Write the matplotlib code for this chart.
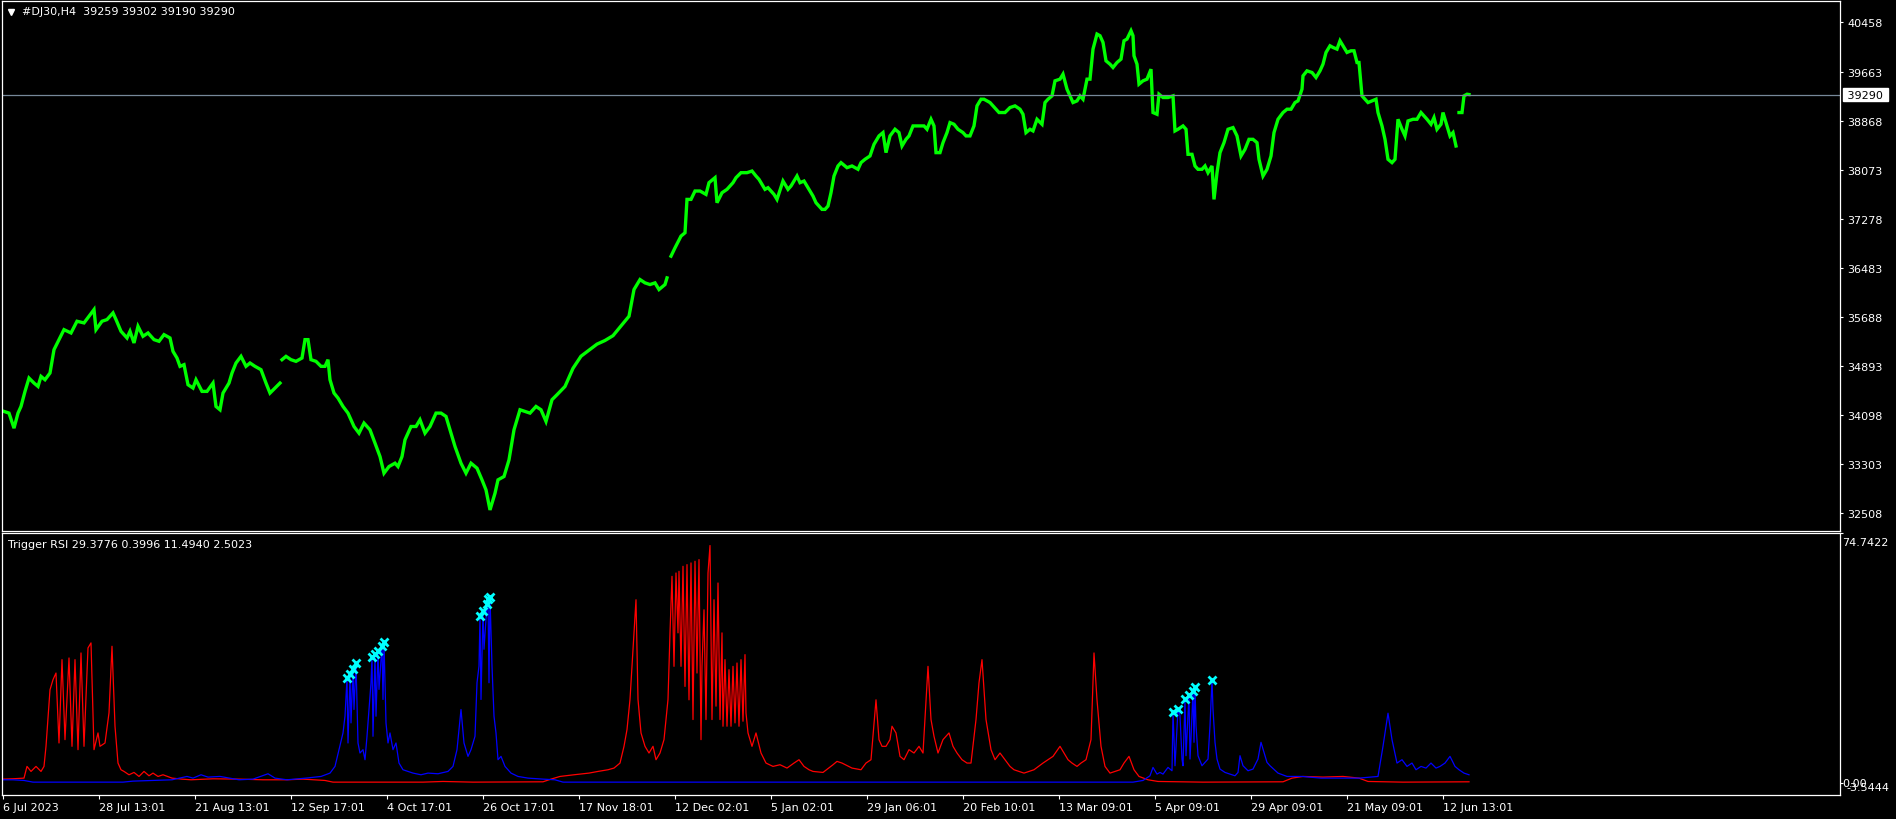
import numpy as np
import matplotlib
matplotlib.use('Agg')
import matplotlib.pyplot as plt
import matplotlib.transforms as mtransforms

# ---- price data (bar index, price); split at the price gaps
price_jul_oct = [
    (1, 34153), (6, 34126), (11, 33882), (15, 34126), (18, 34234), (22, 34478), (26, 34694), (31, 34613),
    (35, 34559), (38, 34721), (42, 34667), (47, 34776), (51, 35154), (56, 35317), (61, 35479), (68, 35425),
    (74, 35615), (81, 35588), (86, 35696), (91, 35804), (93, 35479), (99, 35615), (104, 35642), (110, 35750),
    (113, 35642), (118, 35452), (124, 35344), (127, 35452), (131, 35263), (135, 35533), (140, 35371),
    (145, 35425), (151, 35317), (156, 35290), (161, 35398), (167, 35344), (170, 35127), (174, 35019),
    (177, 34884), (181, 34911), (185, 34586), (190, 34532), (193, 34667), (199, 34478), (204, 34478),
    (210, 34613), (213, 34234), (217, 34180), (220, 34451), (226, 34613), (229, 34776), (233, 34938),
    (238, 35046), (243, 34884), (247, 34938), (252, 34884), (258, 34830), (263, 34613), (267, 34451),
    (272, 34532), (277, 34613)]

price_sep_nov = [
    (279, 34992), (283, 35046), (288, 34992), (293, 34965), (299, 35019), (302, 35317), (305, 35317),
    (308, 34992), (313, 34965), (318, 34884), (322, 34884), (325, 34992), (327, 34667), (331, 34451),
    (335, 34370), (340, 34234), (345, 34126), (351, 33909), (356, 33801), (361, 33964), (367, 33855),
    (372, 33639), (377, 33422), (381, 33152), (386, 33260), (392, 33314), (395, 33260), (399, 33422),
    (402, 33693), (408, 33909), (413, 33909), (417, 34018), (422, 33801), (427, 33909), (433, 34126),
    (438, 34126), (443, 34072), (448, 33801), (452, 33585), (458, 33314), (463, 33152), (468, 33314),
    (474, 33233), (479, 33044), (483, 32881), (487, 32556), (492, 32827), (495, 33044), (501, 33098),
    (506, 33368), (511, 33855), (517, 34180), (522, 34153), (527, 34126), (533, 34234), (538, 34180),
    (543, 33991), (549, 34343), (554, 34424), (562, 34558), (570, 34852), (578, 35048), (586, 35146),
    (594, 35244), (602, 35303), (610, 35381), (618, 35539), (626, 35696), (631, 36129), (637, 36291),
    (642, 36237), (647, 36210), (652, 36237), (656, 36129), (662, 36210), (664, 36318)]

price_dec_jun = [
    (668, 36670), (672, 36805), (678, 36995), (682, 37049), (684, 37590), (688, 37590), (692, 37726),
    (697, 37726), (703, 37671), (706, 37861), (712, 37942), (714, 37536), (719, 37698), (724, 37753),
    (730, 37861), (733, 37942), (738, 38023), (744, 38023), (749, 38050), (753, 37969), (756, 37915),
    (762, 37753), (765, 37780), (771, 37671), (774, 37590), (780, 37888), (785, 37753), (788, 37807),
    (794, 37969), (797, 37861), (801, 37888), (804, 37807), (810, 37644), (813, 37536), (819, 37428),
    (822, 37428), (825, 37482), (828, 37698), (831, 37969), (835, 38132), (838, 38186), (844, 38104),
    (849, 38132), (855, 38078), (858, 38186), (862, 38240), (867, 38294), (871, 38483), (876, 38619),
    (880, 38673), (883, 38348), (887, 38619), (892, 38727), (896, 38673), (899, 38456), (903, 38564),
    (906, 38619), (910, 38781), (915, 38781), (921, 38781), (924, 38727), (928, 38889), (931, 38781),
    (933, 38348), (937, 38348), (940, 38510), (944, 38673), (947, 38835), (951, 38808), (955, 38727),
    (960, 38673), (963, 38619), (967, 38619), (971, 38781), (974, 39106), (978, 39214), (981, 39214),
    (987, 39160), (990, 39106), (996, 38998), (1002, 38998), (1007, 39079), (1012, 39106), (1017, 39052),
    (1020, 38970), (1023, 38673), (1027, 38727), (1030, 38700), (1034, 38889), (1039, 38808),
    (1042, 39160), (1045, 39214), (1049, 39268), (1052, 39512), (1057, 39539), (1060, 39620),
    (1064, 39377), (1067, 39268), (1070, 39160), (1074, 39187), (1077, 39268), (1080, 39214),
    (1084, 39539), (1087, 39539), (1090, 40026), (1094, 40270), (1097, 40243), (1100, 40135),
    (1103, 39836), (1107, 39782), (1110, 39728), (1114, 39809), (1118, 39864), (1121, 40161),
    (1124, 40189), (1128, 40324), (1130, 40243), (1131, 39918), (1134, 39782), (1136, 39458),
    (1140, 39512), (1144, 39539), (1148, 39701), (1150, 38998), (1154, 38970), (1156, 39295),
    (1160, 39241), (1165, 39241), (1170, 39268), (1172, 38700), (1175, 38727), (1180, 38781),
    (1183, 38727), (1185, 38321), (1189, 38321), (1192, 38132), (1195, 38078), (1199, 38078),
    (1202, 38132), (1205, 38023), (1209, 38132), (1211, 37590), (1214, 38023), (1217, 38348),
    (1221, 38510), (1225, 38727), (1230, 38754), (1234, 38619), (1238, 38294), (1242, 38402),
    (1246, 38564), (1250, 38564), (1254, 38510), (1256, 38240), (1260, 37969), (1264, 38078),
    (1268, 38294), (1271, 38673), (1275, 38889), (1280, 38998), (1284, 39052), (1288, 39052),
    (1292, 39160), (1295, 39187), (1299, 39377), (1300, 39593), (1304, 39674), (1309, 39647),
    (1313, 39566), (1317, 39674), (1320, 39782), (1323, 39972), (1327, 40080), (1330, 40053),
    (1334, 40026), (1337, 40161), (1340, 40080), (1344, 39972), (1348, 39999), (1351, 39999),
    (1354, 39809), (1356, 39809), (1359, 39268), (1362, 39214), (1365, 39160), (1369, 39187),
    (1373, 39214), (1375, 38998), (1379, 38781), (1382, 38564), (1385, 38240), (1389, 38186),
    (1392, 38240), (1395, 38889), (1399, 38727), (1402, 38619), (1405, 38862), (1410, 38889),
    (1414, 38889), (1418, 38998), (1421, 38943), (1424, 38889), (1428, 38808), (1431, 38916),
    (1434, 38727), (1438, 38808), (1440, 38998), (1444, 38781), (1447, 38619), (1450, 38673),
    (1453, 38456)]

price_last = [(1456, 38998), (1459, 38998), (1461, 39268), (1464, 39295), (1466, 39290)]

last_price = 39290
price_ticks = [40458, 39663, 38868, 38073, 37278, 36483, 35688, 34893, 34098, 33303, 32508]

# ---- Trigger RSI buffers (bar index, value)
rsi_red = [
    (0, 1.2), (10, 1.3), (21, 1.5), (24, 5.0), (28, 3.5), (33, 5.0), (38, 3.5), (41, 5.0), (43, 11.0),
    (47, 27.9), (50, 30.9), (53, 32.9), (56, 12.0), (59, 36.9), (62, 13.0), (66, 37.4), (69, 11.0),
    (72, 36.9), (75, 10.0), (78, 38.9), (81, 11.0), (85, 40.4), (88, 41.9), (91, 10.0), (95, 15.0),
    (97, 11.0), (102, 12.0), (106, 21.0), (109, 40.9), (112, 17.0), (115, 6.0), (118, 4.0), (121, 3.5),
    (126, 2.5), (131, 3.2), (136, 2.0), (141, 3.5), (146, 2.2), (150, 3.0), (155, 2.0), (160, 2.5),
    (169, 1.5), (179, 1.2), (188, 1.0), (210, 1.3), (236, 1.2), (260, 1.0), (284, 1.0), (300, 1.2),
    (322, 0.8), (330, 0.3), (420, 0.3), (440, 0.5), (470, 0.3), (540, 0.4), (548, 1.2), (557, 2.0),
    (571, 2.5), (586, 3.0), (595, 3.5), (605, 4.0), (611, 4.5), (617, 6.0), (621, 11.0), (624, 16.0),
    (627, 25.0), (631, 44.9), (633, 54.8), (635, 25.0), (638, 15.0), (642, 11.0), (646, 9.0),
    (650, 11.0), (653, 7.0), (657, 9.0), (661, 13.0), (665, 25.0), (667, 44.9), (669, 61.8),
    (671, 34.9), (673, 62.8), (675, 44.9), (676, 63.3), (678, 34.9), (680, 64.8), (682, 28.9),
    (684, 65.3), (686, 24.9), (688, 65.8), (690, 19.0), (692, 66.3), (694, 32.9), (696, 66.8),
    (698, 13.0), (699, 34.9), (701, 51.8), (703, 19.0), (705, 62.8), (707, 71.0), (709, 19.0),
    (711, 54.8), (713, 23.0), (715, 59.8), (717, 19.0), (719, 44.9), (720, 17.0), (722, 36.9),
    (724, 17.0), (726, 33.9), (728, 17.0), (730, 34.9), (732, 18.0), (734, 35.9), (736, 17.0),
    (738, 36.9), (740, 18.5), (742, 38.4), (743, 21.0), (745, 15.0), (749, 11.0), (753, 15.0),
    (758, 9.0), (763, 6.0), (770, 5.0), (777, 5.5), (784, 4.5), (791, 6.0), (796, 7.0), (801, 5.0),
    (806, 4.0), (810, 3.5), (820, 3.2), (830, 5.5), (834, 6.5), (839, 6.0), (849, 4.5), (858, 4.0),
    (863, 6.0), (868, 7.0), (873, 24.9), (876, 13.0), (879, 11.0), (883, 11.0), (887, 13.0),
    (889, 17.0), (893, 15.0), (897, 8.0), (901, 7.0), (906, 10.0), (911, 9.0), (916, 11.0), (920, 9.0),
    (925, 34.9), (928, 19.0), (931, 14.0), (935, 9.0), (940, 13.0), (943, 14.0), (946, 15.0),
    (950, 11.0), (954, 9.0), (959, 7.0), (964, 6.0), (968, 6.0), (973, 19.0), (976, 30.0), (979, 36.9),
    (983, 19.0), (988, 10.0), (992, 7.0), (997, 9.0), (1002, 7.0), (1007, 5.0), (1011, 4.0),
    (1016, 3.5), (1021, 3.0), (1031, 4.0), (1040, 6.0), (1050, 8.0), (1057, 11.0), (1061, 9.0),
    (1065, 7.0), (1069, 6.0), (1074, 5.0), (1078, 6.0), (1083, 7.0), (1088, 13.0), (1091, 38.9),
    (1094, 24.9), (1098, 11.0), (1102, 5.0), (1107, 3.0), (1112, 3.5), (1117, 4.0), (1121, 6.0),
    (1126, 8.0), (1131, 4.0), (1136, 2.0), (1145, 1.0), (1155, 0.5), (1200, 0.3), (1280, 0.4),
    (1289, 1.5), (1300, 2.0), (1320, 1.8), (1340, 2.0), (1356, 1.5), (1365, 0.5), (1400, 0.3),
    (1466, 0.4)]

rsi_blue = [
    (0, 1.0), (10, 1.0), (21, 0.8), (30, 0.3), (120, 0.3), (130, 0.6), (150, 0.8), (169, 1.0), (184, 2.0),
    (190, 1.5), (198, 2.5), (205, 1.8), (217, 2.0), (236, 1.0), (250, 1.2), (265, 2.8), (272, 1.5),
    (284, 1.0), (303, 1.5), (318, 2.0), (327, 3.0), (332, 5.0), (336, 10.0), (340, 15.0), (342, 20.0),
    (344, 31.4), (345, 12.0), (347, 32.6), (348, 18.0), (350, 34.1), (351, 22.0), (353, 35.9),
    (355, 12.0), (357, 9.0), (360, 10.0), (362, 7.0), (364, 14.0), (366, 22.0), (368, 30.0), (369, 37.7),
    (370, 14.0), (372, 38.6), (373, 20.0), (375, 39.6), (376, 28.0), (379, 41.1), (380, 25.0),
    (381, 42.2), (383, 18.0), (385, 12.0), (387, 15.0), (390, 10.0), (393, 12.0), (396, 6.0), (400, 4.0),
    (405, 3.5), (410, 3.0), (418, 2.5), (425, 3.0), (435, 2.8), (445, 3.5), (450, 5.0), (454, 10.0),
    (458, 22.0), (461, 12.0), (465, 8.0), (468, 10.0), (472, 14.0), (474, 30.0), (476, 35.0),
    (477, 50.0), (478, 25.0), (480, 51.5), (481, 40.0), (484, 53.5), (485, 55.0), (486, 30.0),
    (487, 55.6), (489, 35.0), (491, 20.0), (493, 15.0), (495, 7.0), (498, 8.0), (502, 5.0), (508, 3.0),
    (515, 2.0), (525, 1.5), (540, 1.2), (552, 1.0), (560, 0.3), (1130, 0.3), (1140, 0.8), (1147, 2.2),
    (1150, 4.7), (1154, 2.7), (1157, 3.2), (1160, 2.7), (1165, 4.7), (1169, 3.7), (1170, 21.2),
    (1172, 5.2), (1175, 22.2), (1177, 20.2), (1179, 7.2), (1180, 5.2), (1182, 25.1), (1183, 8.2),
    (1186, 26.3), (1187, 7.2), (1188, 13.2), (1190, 27.6), (1191, 12.2), (1192, 28.6), (1193, 17.2),
    (1195, 8.2), (1199, 5.2), (1202, 6.2), (1205, 7.2), (1207, 17.2), (1209, 30.9), (1210, 22.1),
    (1212, 12.2), (1214, 7.2), (1217, 4.2), (1222, 3.2), (1227, 2.7), (1232, 2.2), (1235, 3.2),
    (1237, 8.2), (1240, 5.2), (1245, 3.7), (1250, 4.2), (1255, 7.2), (1258, 12.2), (1260, 10.2),
    (1264, 6.2), (1267, 5.2), (1275, 3.0), (1284, 2.0), (1299, 2.0), (1318, 1.5), (1337, 1.5),
    (1356, 1.5), (1375, 2.0), (1380, 11.0), (1385, 20.9), (1389, 13.0), (1394, 6.0), (1399, 7.0),
    (1404, 5.0), (1409, 6.0), (1413, 4.0), (1418, 5.0), (1423, 4.5), (1428, 6.0), (1433, 4.5),
    (1437, 5.0), (1442, 6.0), (1447, 8.0), (1452, 5.0), (1456, 4.0), (1461, 3.0), (1466, 2.5)]

signal_bars = [344, 347, 350, 353, 369, 372, 375, 379, 381, 477, 480, 484, 485, 487,
               1170, 1175, 1182, 1186, 1190, 1192, 1209]
signal_vals = [31.4, 32.6, 34.1, 35.9, 37.7, 38.6, 39.6, 41.1, 42.2, 50.0, 51.5, 53.5, 55.0, 55.6,
               21.2, 22.2, 25.1, 26.3, 27.6, 28.6, 30.9]

date_labels = ['6 Jul 2023', '28 Jul 13:01', '21 Aug 13:01', '12 Sep 17:01', '4 Oct 17:01',
               '26 Oct 17:01', '17 Nov 18:01', '12 Dec 02:01', '5 Jan 02:01', '29 Jan 06:01',
               '20 Feb 10:01', '13 Mar 09:01', '5 Apr 09:01', '29 Apr 09:01', '21 May 09:01',
               '12 Jun 13:01']
bars_per_label = 96

# ---- figure in pixels
W, H = 1896, 820
fig = plt.figure(figsize=(W / 100, H / 100), dpi=100, facecolor='black')
plt.rcParams['font.family'] = ['DejaVu Sans']
FS = 8


def px_axes(x0, y0, x1, y1):
    return fig.add_axes([x0 / W, 1 - y1 / H, (x1 - x0) / W, (y1 - y0) / H])


ax = px_axes(2, 2, 1840, 532)
ax2 = px_axes(2, 534, 1840, 796)
for a in (ax, ax2):
    a.set_facecolor('black')
    for s in a.spines.values():
        s.set_color('white')
        s.set_linewidth(0.9)
    a.set_xlim(-1, 1837)

# price panel
for seg in (price_jul_oct, price_sep_nov, price_dec_jun, price_last):
    b, p = zip(*seg)
    ax.plot(b, p, color='#00ff00', lw=2.4, solid_joinstyle='miter')
ax.axhline(last_price, color='#778899', lw=0.9)
ax.set_ylim(32215, 40806)
ax.yaxis.tick_right()
ax.set_yticks(price_ticks)
ax.set_yticklabels([str(t) for t in price_ticks])
ax.tick_params(axis='y', colors='white', labelsize=FS, length=2.5, width=0.8, pad=3)
ax.set_xticks([])

trans = mtransforms.blended_transform_factory(ax.transAxes, ax.transData)
ax.text(1 + 4 / 1838, last_price, ' %d ' % last_price, transform=trans, ha='left', va='center',
        fontsize=FS, color='black', bbox=dict(boxstyle='square,pad=0.12', fc='white', ec='white'))

ax.plot([9 / 1838], [1 - 10.5 / 530], marker='v', color='white', ms=4.5, transform=ax.transAxes)
ax.text(20 / 1838, 1 - 10.5 / 530, '#DJ30,H4  39259 39302 39190 39290', transform=ax.transAxes,
        ha='left', va='center', fontsize=FS, color='white')

# indicator panel
b, v = zip(*rsi_red)
ax2.plot(b, v, color='#ff0000', lw=0.9)
b, v = zip(*rsi_blue)
ax2.plot(b, v, color='#0000ff', lw=0.9)
ax2.plot(signal_bars, signal_vals, ls='none', marker='x', color='#00ffff', ms=6, mew=2)
ax2.set_ylim(-3.5444, 74.7422)
ax2.yaxis.tick_right()
ax2.set_yticks([0, 74.7422])
ax2.set_yticklabels([])
ax2.tick_params(axis='y', colors='white', length=2, width=0.8)
ax2.text(1 + 2 / 1838, 1 - 9 / 262, '74.7422', transform=ax2.transAxes, ha='left', va='center',
         fontsize=FS, color='white')
ax2.text(1 + 2 / 1838, 12 / 262, '0.00', transform=ax2.transAxes, ha='left', va='center',
         fontsize=FS, color='white')
ax2.text(1 + 6 / 1838, 8 / 262, '-3.5444', transform=ax2.transAxes, ha='left', va='center',
         fontsize=FS, color='white')
ax2.text(6 / 1838, 1 - 11 / 262, 'Trigger RSI 29.3776 0.3996 11.4940 2.5023', transform=ax2.transAxes,
         ha='left', va='center', fontsize=FS, color='white')

ax2.set_xticks(np.arange(len(date_labels)) * bars_per_label)
ax2.set_xticklabels(date_labels)
plt.setp(ax2.get_xticklabels(), ha='left')
ax2.tick_params(axis='x', colors='white', labelsize=FS, length=3, width=0.8, pad=2)

fig.savefig('out.png', dpi=100, facecolor='black')
